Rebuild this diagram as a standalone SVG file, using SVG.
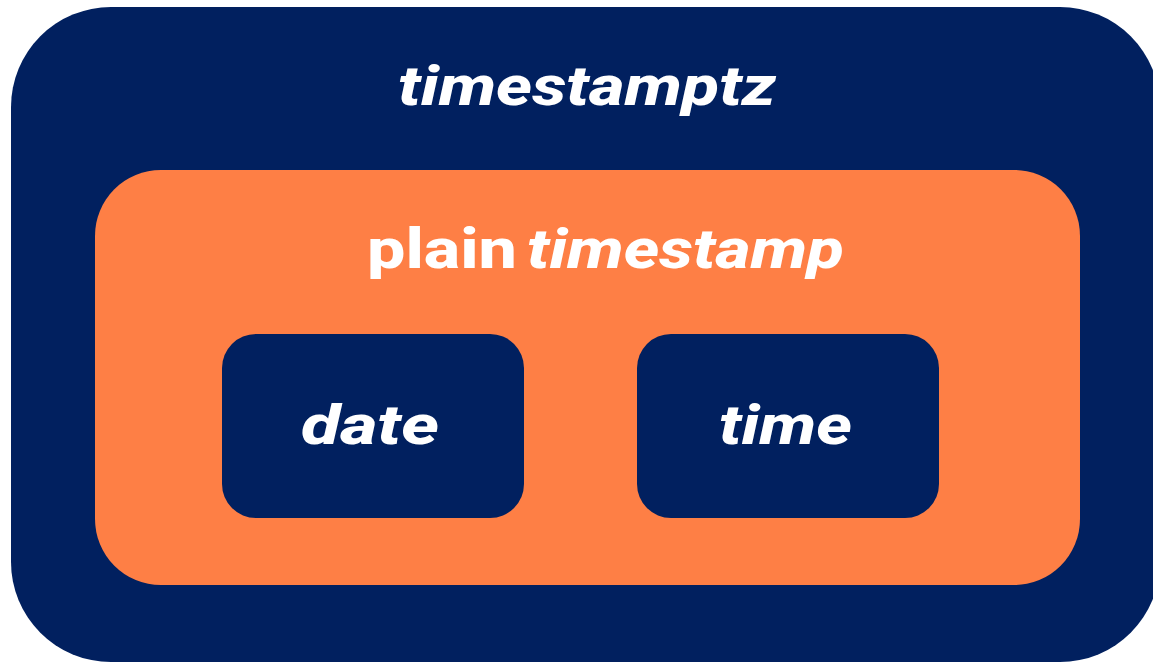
<svg xmlns="http://www.w3.org/2000/svg" width="1153" height="664" viewBox="0 0 1153 664">
<style>
.navy{fill:#01205f}
.orange{fill:#fe7f45}
.lbl{font-family:Roboto,"Liberation Sans",sans-serif;font-weight:800;font-size:55px;fill:#ffffff}
.it{font-style:italic}
</style>
<rect width="1153" height="664" fill="#ffffff"/>
<g id="timestamptz">
<rect class="navy" x="11" y="7" width="1149" height="655" rx="100" ry="100"/>
<text class="lbl it" x="398" y="105" textLength="378" lengthAdjust="spacingAndGlyphs">timestamptz</text>
</g>
<g id="plain-timestamp">
<rect class="orange" x="95" y="170" width="985" height="415" rx="66" ry="66"/>
<text class="lbl" x="367" y="268"><tspan textLength="150" lengthAdjust="spacingAndGlyphs">plain</tspan><tspan class="it" x="527" textLength="317" lengthAdjust="spacingAndGlyphs">timestamp</tspan></text>
</g>
<g id="date">
<rect class="navy" x="222" y="334" width="302" height="184" rx="34" ry="34"/>
<text class="lbl it" x="301" y="444" textLength="138" lengthAdjust="spacingAndGlyphs">date</text>
</g>
<g id="time">
<rect class="navy" x="637" y="334" width="302" height="184" rx="34" ry="34"/>
<text class="lbl it" x="719" y="444" textLength="133" lengthAdjust="spacingAndGlyphs">time</text>
</g>
<g id="connectors"/>
</svg>
